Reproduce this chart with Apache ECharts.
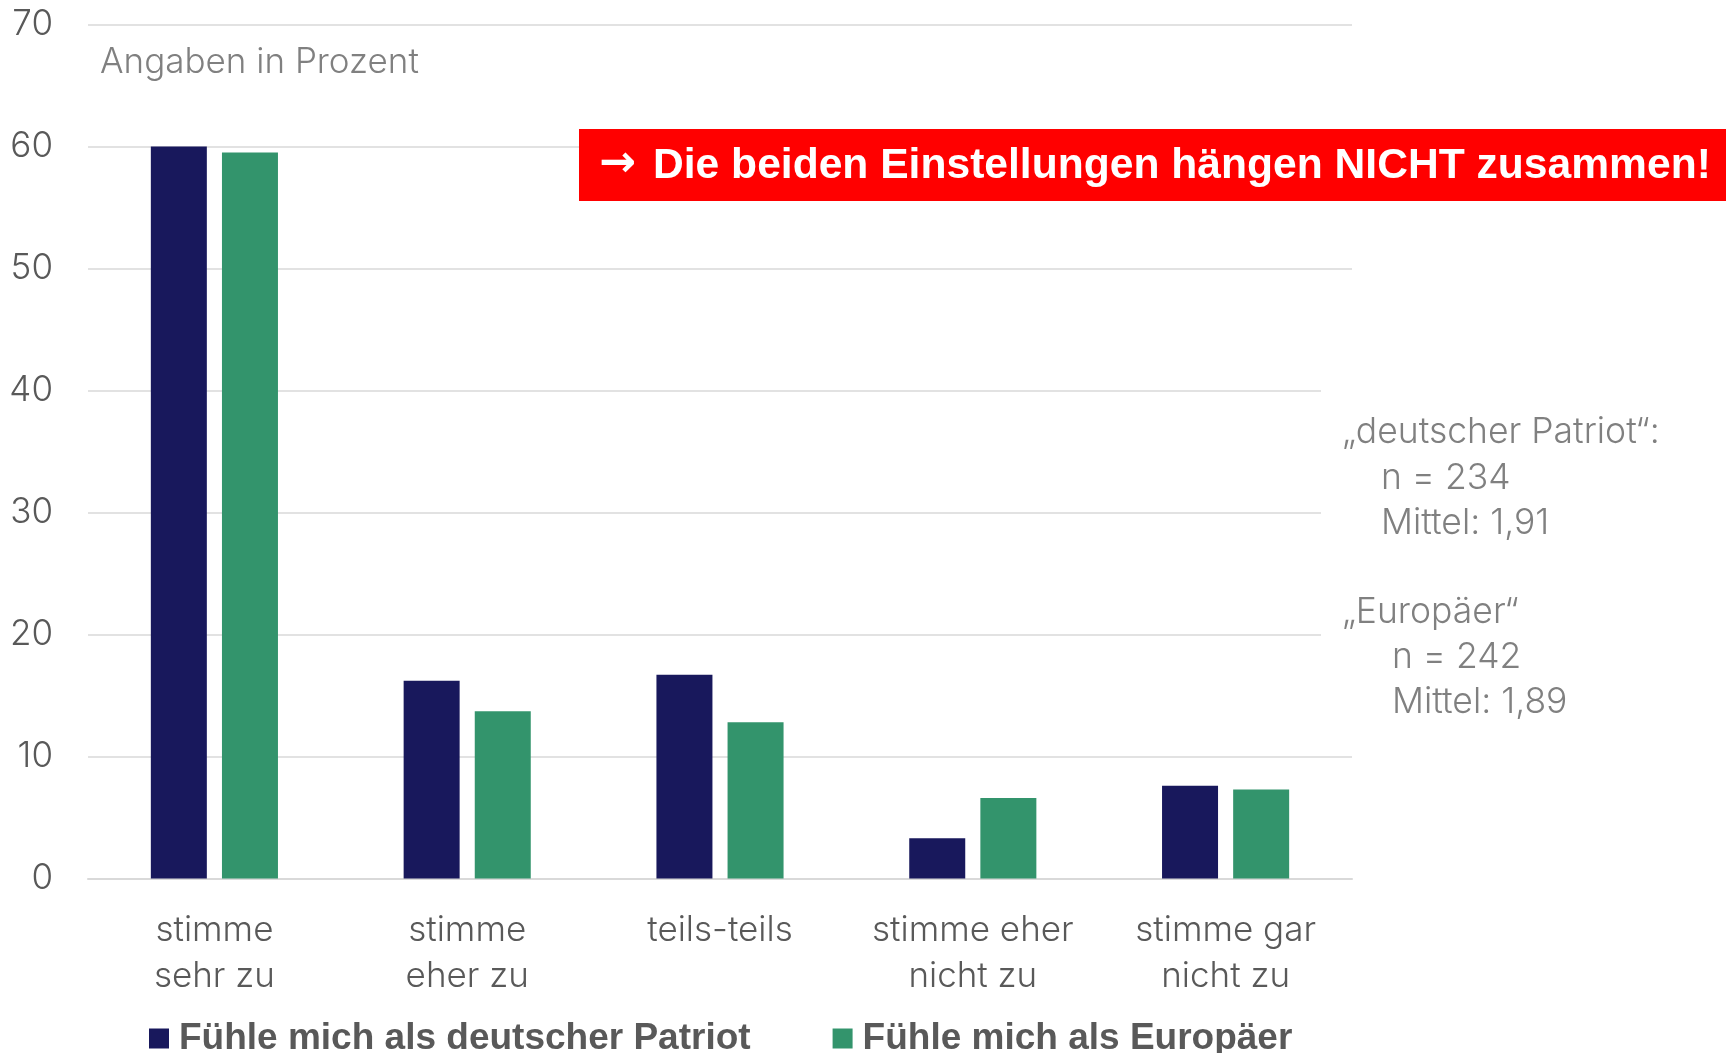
<!DOCTYPE html>
<html>
<head>
<meta charset="utf-8">
<script src="https://cdn.jsdelivr.net/npm/echarts@6/dist/echarts.min.js"></script>
<style>
html,body{margin:0;padding:0;background:#fff;}
#chart{width:1726px;height:1053px;}
</style>
</head>
<body>
<div id="chart"></div>
<script>
const categories = ['stimme\nsehr zu', 'stimme\neher zu', 'teils-teils', 'stimme eher\nnicht zu', 'stimme gar\nnicht zu'];
const seriesNames = ['Fühle mich als deutscher Patriot', 'Fühle mich als Europäer'];
const patriotValues = [60.0, 16.2, 16.7, 3.3, 7.6];
const europaeerValues = [59.5, 13.7, 12.8, 6.6, 7.3];
const yTicks = { min: 0, max: 70, interval: 10 };
const unitNote = 'Angaben in Prozent';
const headlineArrow = '\u2192';
const headline = 'Die beiden Einstellungen hängen NICHT zusammen!';
const noteLines = ['\u201Edeutscher Patriot\u201C:', 'n = 234', 'Mittel: 1,91', '\u201EEuropäer\u201C', 'n = 242', 'Mittel: 1,89'];

const lightFont = 'Inter, "Open Sans", sans-serif';
const boldFont = '"Liberation Sans", Arial, sans-serif';
const navy = '#18185c';
const green = '#33946c';

const chart = echarts.init(document.getElementById('chart'), null, { renderer: 'canvas' });

const noteX = [1342, 1381, 1381, 1342, 1392, 1392];
const noteY = [432, 478, 523, 612, 657, 702];

const option = {
  animation: false,
  backgroundColor: '#ffffff',
  grid: { left: 88, right: 1726 - 1352, top: 24.5, bottom: 1053 - 878.5, containLabel: false },
  legend: {
    left: 144, top: 1015,
    itemWidth: 20, itemHeight: 20, itemGap: 82,
    icon: 'rect',
    textStyle: { fontFamily: boldFont, fontWeight: 'bold', fontSize: 37, color: '#595959', padding: [0, 0, 0, 5] },
    data: seriesNames
  },
  xAxis: {
    type: 'category',
    data: categories,
    axisLine: { show: true, lineStyle: { color: '#d9d9d9', width: 2 } },
    axisTick: { show: false },
    axisLabel: { color: '#595959', fontFamily: lightFont, fontWeight: 300, fontSize: 35, lineHeight: 46, margin: 29, interval: 0 }
  },
  yAxis: {
    type: 'value',
    min: yTicks.min, max: yTicks.max, interval: yTicks.interval,
    axisLine: { show: false },
    axisTick: { show: false },
    axisLabel: { color: '#595959', fontFamily: lightFont, fontWeight: 300, fontSize: 35, margin: 35 },
    splitLine: { lineStyle: { color: '#d9d9d9', width: 1.5 } }
  },
  series: [
    { name: seriesNames[0], type: 'bar', data: patriotValues, barWidth: 56, barGap: '27%', itemStyle: { color: navy } },
    { name: seriesNames[1], type: 'bar', data: europaeerValues, barWidth: 56, itemStyle: { color: green } }
  ],
  graphic: [
    { type: 'text', left: 100, top: 45, z: 50,
      style: { text: unitNote, fill: '#808080', fontFamily: lightFont, fontWeight: 300, fontSize: 35 } },
    { type: 'rect', z: 100, shape: { x: 579, y: 129, width: 1147, height: 72 }, style: { fill: '#ff0000' } },
    { type: 'text', z: 101, x: 599, y: 165,
      style: { text: headlineArrow, fill: '#ffffff', fontFamily: '"DejaVu Sans", sans-serif', fontWeight: 'bold', fontSize: 44, verticalAlign: 'middle' } },
    { type: 'text', z: 101, x: 653, y: 166,
      style: { text: headline, fill: '#ffffff', fontFamily: boldFont, fontWeight: 'bold', fontSize: 42.6, verticalAlign: 'middle' } },
    { type: 'rect', z: 90, shape: { x: 1321, y: 370, width: 405, height: 370 }, style: { fill: '#ffffff' } }
  ].concat(noteLines.map((t, i) => ({
    type: 'text', z: 95, x: noteX[i], y: noteY[i],
    style: { text: t, fill: '#808080', fontFamily: lightFont, fontWeight: 300, fontSize: 35.5, verticalAlign: 'middle' }
  })))
};
chart.setOption(option);
</script>
</body>
</html>
